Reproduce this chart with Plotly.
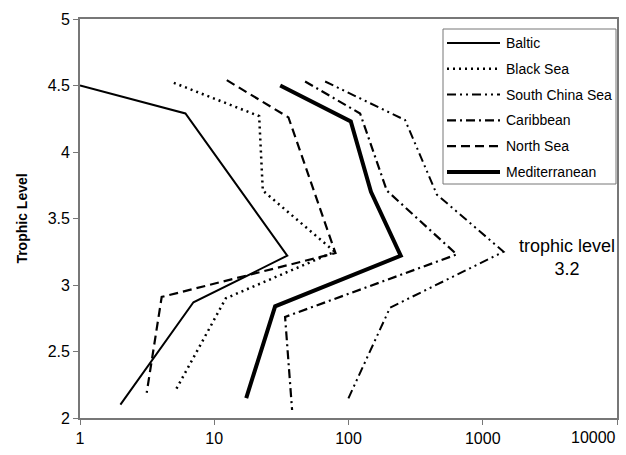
import plotly.graph_objects as go

# Data (x: catch on log scale, y: trophic level)
series_names = ["Baltic", "Black Sea", "South China Sea", "Caribbean", "North Sea", "Mediterranean"]

baltic_x = [1.0, 6.1, 35.0, 7.0, 2.0]
baltic_y = [4.50, 4.29, 3.22, 2.87, 2.10]

black_x = [5.0, 21.6, 23.0, 79.0, 12.2, 5.1]
black_y = [4.52, 4.27, 3.71, 3.25, 2.90, 2.20]

scs_x = [67.0, 264.0, 455.0, 1430.0, 204.0, 98.0]
scs_y = [4.53, 4.24, 3.68, 3.25, 2.83, 2.13]

carib_x = [47.5, 122.0, 193.0, 640.0, 33.7, 38.0]
carib_y = [4.53, 4.29, 3.71, 3.23, 2.76, 2.06]

north_x = [12.4, 35.7, 80.0, 4.06, 3.14]
north_y = [4.54, 4.26, 3.24, 2.91, 2.19]

med_x = [31.0, 104.0, 147.0, 245.0, 28.4, 17.3]
med_y = [4.50, 4.23, 3.70, 3.22, 2.84, 2.15]

x_tick_vals = [1, 10, 100, 1000, 10000]
x_tick_text = ["1", "10", "100", "1000", ""]
last_x_label = "10000"
y_tick_vals = [2, 2.5, 3, 3.5, 4, 4.5, 5]
y_tick_text = ["2", "2.5", "3", "3.5", "4", "4.5", "5"]

xs = [baltic_x, black_x, scs_x, carib_x, north_x, med_x]
ys = [baltic_y, black_y, scs_y, carib_y, north_y, med_y]
styles = [
    dict(width=2, dash="solid"),
    dict(width=2.5, dash="2px,4px"),
    dict(width=2, dash="9px,4px,2px,4px,2px,4px"),
    dict(width=2.2, dash="9px,4px,2px,4px"),
    dict(width=2.2, dash="9px,5px"),
    dict(width=4, dash="solid"),
]

FONT = "Liberation Sans, Arial, sans-serif"

# plot area in pixels (for legend placement in paper coords)
L, R, T, B = 80, 617, 19, 418
def px(xp):
    return (xp - L) / (R - L)
def py(yp):
    return (B - yp) / (B - T)

fig = go.Figure()
for i, (name, x, y, st) in enumerate(zip(series_names, xs, ys, styles)):
    fig.add_trace(go.Scatter(
        x=x, y=y, mode="lines", name=name, showlegend=False,
        line=dict(color="black", width=st["width"], dash=st["dash"]),
    ))

# Legend box drawn manually (to match sample length)
shapes = [dict(type="rect", xref="paper", yref="paper", x0=px(443), x1=px(616), y0=py(184), y1=py(29),
               fillcolor="white", line=dict(color="#777777", width=1), layer="above")]
annotations = []
for i, (name, st) in enumerate(zip(series_names, styles)):
    yy = 43 + i * 25.8
    shapes.append(dict(type="line", xref="paper", yref="paper", x0=px(447), x1=px(500), y0=py(yy), y1=py(yy),
                       line=dict(color="black", width=st["width"], dash=st["dash"]), layer="above"))
    annotations.append(dict(text=name, xref="paper", yref="paper", x=px(504), y=py(yy), xanchor="left",
                            yanchor="middle", showarrow=False,
                            font=dict(family=FONT, size=14, color="black")))

# last x tick label, right-aligned at the axis end (as in the reference)
annotations.append(dict(
    text=last_x_label, xref="x", yref="paper", x=4, y=0, xanchor="right", yanchor="top",
    yshift=-9, xshift=1, showarrow=False, font=dict(family=FONT, size=16, color="black"),
))

annotations.append(dict(
    text="trophic level<br>3.2", x=px(567), y=py(257), xref="paper", yref="paper",
    xanchor="center", yanchor="middle",
    showarrow=False, font=dict(family=FONT, size=18, color="black"), align="center",
))

fig.update_layout(
    width=626, height=455,
    margin=dict(l=L, r=626 - R, t=T, b=455 - B, autoexpand=False),
    paper_bgcolor="white", plot_bgcolor="white",
    font=dict(family=FONT, color="black"),
    showlegend=False,
    shapes=shapes, annotations=annotations,
    xaxis=dict(
        type="log", range=[0, 4], tickvals=x_tick_vals, ticktext=x_tick_text,
        ticks="outside", ticklen=5, tickcolor="#777777",
        showline=True, linecolor="#777777", linewidth=1.5, mirror=True,
        showgrid=False, zeroline=False,
        tickfont=dict(family=FONT, size=16, color="black"),
    ),
    yaxis=dict(
        range=[2, 5], tickvals=y_tick_vals, ticktext=y_tick_text,
        ticks="outside", ticklen=5, tickcolor="#777777",
        showline=True, linecolor="#777777", linewidth=1.8, mirror=True,
        showgrid=False, zeroline=False,
        tickfont=dict(family=FONT, size=16, color="black"),
        title=dict(text="<b>Trophic Level</b>", font=dict(family=FONT, size=14, color="black"), standoff=17),
    ),
)

fig.write_html("out.html")
